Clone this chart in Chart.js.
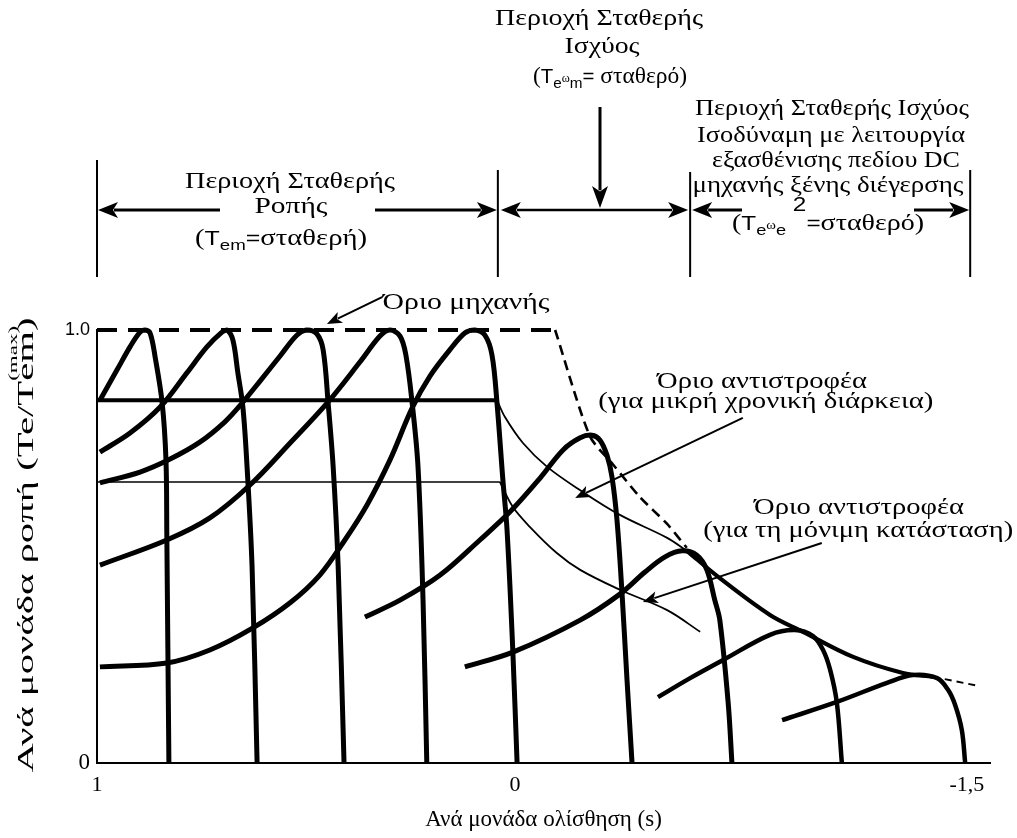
<!DOCTYPE html>
<html>
<head>
<meta charset="utf-8">
<script src="https://cdn.jsdelivr.net/npm/chart.js@4.4.0/dist/chart.umd.min.js"></script>
<style>
  html, body { margin: 0; padding: 0; background: #fff; }
  canvas { display: block; }
</style>
</head>
<body>
<canvas id="c" width="1017" height="838"></canvas>
<script>
const SERIF = '"Liberation Serif", "Times New Roman", serif';
const SANS = '"Liberation Sans", Arial, sans-serif';

// Horizontal position along the speed axis: 0 = standstill (s = 1), 1 = base speed (s = 0)
const slipTickPos = [0, 1, 2.081];
const slipTickLabels = ['1', '0', '-1,5'];
const torqueTickValues = [0, 1];
const torqueTickLabels = ['0', '1.0'];
// limits of the three operating regions shown above the plot
const regionBounds = [0, 0.959, 1.419, 2.089];

// torque-speed characteristics, [position, torque pu]
const arch1 = [[0.007,0.838],[0.048,0.908],[0.079,0.961],[0.103,0.995],[0.115,1.0],[0.127,0.993],[0.139,0.938],[0.156,0.831],[0.165,0.700],[0.167,0.531],[0.172,0]];
const arch2 = [[0.007,0.718],[0.079,0.762],[0.151,0.822],[0.215,0.901],[0.263,0.961],[0.299,0.995],[0.311,1.0],[0.325,0.977],[0.337,0.901],[0.349,0.822],[0.359,0.684],[0.371,0.453],[0.383,0]];
const arch3 = [[0.007,0.647],[0.103,0.672],[0.175,0.702],[0.246,0.741],[0.306,0.788],[0.347,0.831],[0.390,0.882],[0.438,0.940],[0.478,0.988],[0.502,1.0],[0.526,0.991],[0.541,0.954],[0.553,0.831],[0.565,0.684],[0.577,0.453],[0.591,0]];
const arch4 = [[0.007,0.457],[0.167,0.515],[0.270,0.566],[0.366,0.642],[0.462,0.739],[0.553,0.834],[0.629,0.926],[0.677,0.986],[0.701,1.0],[0.725,0.986],[0.739,0.942],[0.754,0.831],[0.768,0.684],[0.780,0.376],[0.789,0]];
const arch5 = [[0.007,0.222],[0.167,0.231],[0.270,0.261],[0.373,0.312],[0.462,0.370],[0.533,0.434],[0.593,0.515],[0.646,0.596],[0.701,0.700],[0.754,0.820],[0.797,0.894],[0.844,0.954],[0.880,0.993],[0.904,1.0],[0.928,0.988],[0.945,0.942],[0.957,0.831],[0.971,0.654],[0.981,0.538],[0.995,0.254],[1.005,0]];
const arch6 = [[0.641,0.337],[0.725,0.376],[0.821,0.434],[0.916,0.515],[0.988,0.580],[1.060,0.658],[1.115,0.723],[1.156,0.751],[1.184,0.757],[1.203,0.746],[1.220,0.711],[1.232,0.661],[1.244,0.561],[1.256,0.393],[1.268,0.192],[1.280,0]];
const arch7 = [[0.880,0.222],[0.995,0.256],[1.156,0.330],[1.251,0.390],[1.311,0.441],[1.359,0.476],[1.400,0.490],[1.435,0.480],[1.459,0.446],[1.478,0.376],[1.490,0.330],[1.510,0.139],[1.519,0]];
const arch8 = [[1.342,0.152],[1.419,0.196],[1.498,0.238],[1.610,0.296],[1.670,0.307],[1.713,0.293],[1.737,0.261],[1.754,0.215],[1.770,0.139],[1.782,0]];
const arch9 = [[1.639,0.099],[1.770,0.141],[1.890,0.185],[1.952,0.203],[2.010,0.196],[2.036,0.169],[2.053,0.134],[2.069,0.076],[2.077,0]];

// limits
const constTorqueLimit = [[0,0.838],[0.957,0.838]];
const lowTorqueLine = [[0,0.649],[0.964,0.649]];
const shortTimeLimit = [[0.957,0.838],[0.976,0.799],[1.019,0.739],[1.077,0.684],[1.156,0.630],[1.251,0.573],[1.364,0.520],[1.411,0.490]];
const lowTorqueCurve = [[0.964,0.649],[0.995,0.591],[1.036,0.545],[1.100,0.485],[1.156,0.446],[1.251,0.400],[1.364,0.353],[1.443,0.303]];
const steadyLimit = [[1.411,0.490],[1.490,0.427],[1.610,0.342],[1.689,0.303],[1.809,0.245],[1.928,0.208],[2.000,0.199]];
const steadyLimitTail = [[2.000,0.199],[2.053,0.189],[2.108,0.178]];
const machineLimitFlat = [[0,1.0],[1.096,1.0]];
const machineLimitFall = [[1.096,1.0],[1.179,0.755],[1.234,0.690],[1.299,0.614],[1.364,0.552],[1.411,0.497]];

function series(points, width, extra) {
  return Object.assign({
    data: points.map(([x, y]) => ({ x, y })),
    showLine: true,
    borderColor: '#000',
    backgroundColor: '#000',
    borderWidth: width,
    pointRadius: 0,
    pointHoverRadius: 0,
    tension: 0.35,
    fill: false,
    clip: false,
    borderCapStyle: 'butt',
    borderJoinStyle: 'round'
  }, extra || {});
}

const datasets = [
  series(lowTorqueLine, 1.6, { tension: 0 }),
  series(shortTimeLimit, 1.8),
  series(lowTorqueCurve, 1.8),
  series(machineLimitFlat, 4, { tension: 0, borderDash: [20, 11] }),
  series(machineLimitFall, 2.6, { tension: 0.25, borderDash: [10, 6] }),
  series(steadyLimitTail, 2, { tension: 0, borderDash: [7, 5] }),
  series(constTorqueLimit, 4, { tension: 0 }),
  series(steadyLimit, 4.2),
  series(arch1, 5), series(arch2, 5), series(arch3, 5), series(arch4, 5), series(arch5, 5),
  series(arch6, 5), series(arch7, 5), series(arch8, 4.5), series(arch9, 4.5)
];

const sv = (t, size, dy, adv) => ({ t, font: size + 'px ' + SERIF, dy: dy || 0, adv });
const sn = (t, size, dy, adv) => ({ t, font: size + 'px ' + SANS, dy: dy || 0, adv });

// text runs drawn in a row, stretched to a given width
function drawRun(ctx, segs, cx, base, width) {
  let w = 0;
  segs.forEach(s => { ctx.font = s.font; if (s.adv !== false) w += ctx.measureText(s.t).width; });
  const k = width ? width / w : 1;
  ctx.save();
  ctx.translate(cx - w * k / 2, base);
  ctx.scale(k, 1);
  let cur = 0;
  segs.forEach(s => {
    ctx.font = s.font;
    ctx.fillText(s.t, cur, s.dy);
    if (s.adv !== false) cur += ctx.measureText(s.t).width;
  });
  ctx.restore();
}

function arrow(ctx, x1, y1, x2, y2, len, hw, lw) {
  const a = Math.atan2(y2 - y1, x2 - x1);
  const bx = x2 - Math.cos(a) * len * 0.8, by = y2 - Math.sin(a) * len * 0.8;
  ctx.lineWidth = lw;
  ctx.beginPath(); ctx.moveTo(x1, y1); ctx.lineTo(bx, by); ctx.stroke();
  ctx.beginPath();
  ctx.moveTo(x2, y2);
  ctx.lineTo(x2 - Math.cos(a) * len - Math.sin(a) * hw, y2 - Math.sin(a) * len + Math.cos(a) * hw);
  ctx.lineTo(x2 - Math.cos(a) * len * 0.75, y2 - Math.sin(a) * len * 0.75);
  ctx.lineTo(x2 - Math.cos(a) * len + Math.sin(a) * hw, y2 - Math.sin(a) * len - Math.cos(a) * hw);
  ctx.closePath(); ctx.fill();
}

// region header above the plot (canvas pixels)
const headerTexts = [
  { segs: [sv('Περιοχή Σταθερής', 23)], cx: 290, base: 188, w: 210 },
  { segs: [sv('Ροπής', 23)], cx: 291, base: 213, w: 73 },
  { segs: [sv('(', 23), sn('T', 20), sn('em', 15, 5), sn('=', 20), sv('σταθερή)', 23)], cx: 281, base: 245, w: 172 },
  { segs: [sv('Περιοχή Σταθερής', 23)], cx: 599, base: 25, w: 208 },
  { segs: [sv('Ισχύος', 23)], cx: 602, base: 53, w: 75 },
  { segs: [sv('(', 23), sn('T', 20), sn('e', 15, 5), sv('ω', 12, -1), sn('m', 15, 5), sn('=', 20), sv(' σταθερό)', 23)], cx: 610, base: 83, w: 154 },
  { segs: [sv('Περιοχή Σταθερής Ισχύος', 23)], cx: 832, base: 115, w: 274 },
  { segs: [sv('Ισοδύναμη με λειτουργία', 23)], cx: 831, base: 142, w: 268 },
  { segs: [sv('εξασθένισης πεδίου DC', 23)], cx: 836, base: 167, w: 248 },
  { segs: [sv('μηχανής ξένης διέγερσης', 23)], cx: 828, base: 192, w: 271 },
  { segs: [sv('(', 23), sn('T', 20), sn('e', 15, 5), sv('ω', 12, -1), sn('e', 15, 5), sn(' 2', 20, -19), sn('=', 20), sv('σταθερό)', 23)], cx: 828, base: 230, w: 192 }
];

// labels inside the plot, anchored in axis units
const plotTexts = [
  { t: 'Όριο μηχανής', x: 0.883, y: 1.048, w: 167 },
  { t: 'Όριο αντιστροφέα', x: 1.591, y: 0.866, w: 210 },
  { t: '(για μικρή χρονική διάρκεια)', x: 1.600, y: 0.820, w: 335 },
  { t: 'Όριο αντιστροφέα', x: 1.823, y: 0.575, w: 210 },
  { t: '(για τη μόνιμη κατάσταση)', x: 1.821, y: 0.522, w: 310 }
];
const plotArrows = [
  { from: [0.682, 1.076], to: [0.550, 1.014] },
  { from: [1.545, 0.797], to: [1.144, 0.612] },
  { from: [1.734, 0.508], to: [1.306, 0.372] }
];

const annotate = {
  id: 'annotate',
  afterDraw(chart) {
    const { ctx, scales: { x, y } } = chart;
    const X = v => x.getPixelForValue(v);
    const Y = v => y.getPixelForValue(v);
    ctx.save();
    ctx.fillStyle = '#000';
    ctx.strokeStyle = '#000';
    ctx.textAlign = 'left';
    ctx.textBaseline = 'alphabetic';

    // region boundaries
    const b = regionBounds.map(X);
    const tops = [160, 170, 172, 170];
    ctx.lineWidth = 2;
    b.forEach((bx, i) => {
      ctx.beginPath(); ctx.moveTo(bx, tops[i]); ctx.lineTo(bx, 277); ctx.stroke();
    });
    const ay = 210;
    arrow(ctx, 220, ay, b[0] + 1, ay, 20, 8, 3);
    arrow(ctx, 375, ay, b[1] - 1, ay, 20, 8, 3);
    arrow(ctx, 600, ay, b[1] + 3, ay, 20, 8, 2.5);
    arrow(ctx, 600, ay, b[2] - 2, ay, 20, 8, 2.5);
    arrow(ctx, 600, 107, 600, ay - 2, 22, 8, 3);
    arrow(ctx, 742, ay, b[2] + 2, ay, 20, 8, 3);
    arrow(ctx, 914, ay, b[3] - 1, ay, 20, 8, 3);

    headerTexts.forEach(h => drawRun(ctx, h.segs, h.cx, h.base, h.w));

    plotTexts.forEach(p => drawRun(ctx, [sv(p.t, 23)], X(p.x), Y(p.y), p.w));
    plotArrows.forEach(a => arrow(ctx, X(a.from[0]), Y(a.from[1]), X(a.to[0]), Y(a.to[1]), 15, 6, 2));

    // vertical axis title
    ctx.save();
    ctx.translate(25, 545);
    ctx.rotate(-Math.PI / 2);
    drawRun(ctx, [sv('Ανά μονάδα ροπή (Te/T', 23), sv('(max)', 13, -16, false), sv('em', 23), sv(')', 23)], 0, 8, 455);
    ctx.restore();

    ctx.restore();
  }
};

new Chart(document.getElementById('c'), {
  type: 'scatter',
  data: { datasets },
  plugins: [annotate],
  options: {
    responsive: false,
    animation: false,
    events: [],
    layout: { padding: { top: 330, right: 27, left: 0, bottom: 0 } },
    plugins: { legend: { display: false }, tooltip: { enabled: false } },
    scales: {
      x: {
        type: 'linear',
        min: 0,
        max: 2.1364,
        grid: { display: false, drawTicks: false },
        border: { display: true, color: '#000', width: 2 },
        afterBuildTicks: s => { s.ticks = slipTickPos.map(v => ({ value: v })); },
        afterFit: s => { s.height = 75; },
        ticks: {
          color: '#000',
          padding: 9,
          maxRotation: 0,
          autoSkip: false,
          font: { family: SERIF, size: 22 },
          callback: v => slipTickLabels[slipTickPos.indexOf(v)]
        },
        title: {
          display: true,
          text: 'Ανά μονάδα ολίσθηση (s)',
          color: '#000',
          font: { family: SERIF, size: 23 },
          padding: { top: 0, bottom: 4 }
        }
      },
      y: {
        type: 'linear',
        min: 0,
        max: 1,
        grid: { display: false, drawTicks: false },
        border: { display: true, color: '#000', width: 2 },
        afterBuildTicks: s => { s.ticks = torqueTickValues.map(v => ({ value: v })); },
        afterFit: s => { s.width = 97; },
        ticks: {
          color: '#000',
          padding: 7,
          autoSkip: false,
          font: c => (c.tick && c.tick.value === 1) ? { family: SANS, size: 18 } : { family: SERIF, size: 23 },
          callback: v => torqueTickLabels[torqueTickValues.indexOf(v)]
        }
      }
    }
  }
});
</script>
</body>
</html>
